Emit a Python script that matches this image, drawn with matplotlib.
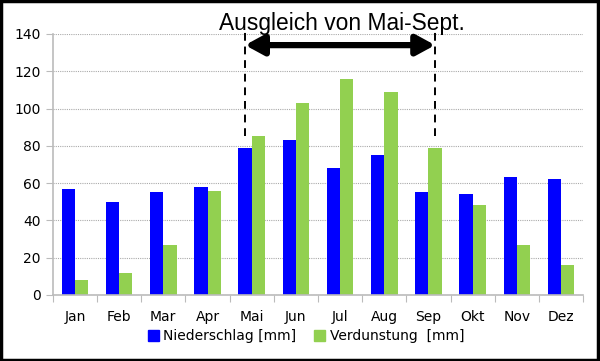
import matplotlib
matplotlib.use('Agg')
import matplotlib.pyplot as plt
from matplotlib.patches import Rectangle, Patch
import numpy as np

months = ['Jan', 'Feb', 'Mar', 'Apr', 'Mai', 'Jun', 'Jul', 'Aug', 'Sep', 'Okt', 'Nov', 'Dez']
niederschlag = [57, 50, 55, 58, 79, 83, 68, 75, 55, 54, 63, 62]
verdunstung = [8, 12, 27, 56, 85, 103, 116, 109, 79, 48, 27, 16]
span_start, span_end = 3.85, 8.15
title = 'Ausgleich von Mai-Sept.'

blue = '#0000FF'
green = '#92D050'

fig = plt.figure(figsize=(6.0, 3.61), dpi=100)
ax = fig.add_axes([0.088, 0.183, 0.884, 0.723])

x = np.arange(len(months))
w = 0.3
ax.bar(x - w / 2, niederschlag, w, color=blue, label='Niederschlag [mm]')
ax.bar(x + w / 2, verdunstung, w, color=green, label='Verdunstung  [mm]')

ax.set_xlim(-0.5, len(months) - 0.5)
ax.set_ylim(0, 140)
ax.set_yticks(range(0, 141, 20))
ax.yaxis.grid(True, color='#AAAAAA', linestyle=(0, (1, 1)), linewidth=0.8)
ax.set_axisbelow(True)

for s in ['top', 'right']:
    ax.spines[s].set_visible(False)
for s in ['left', 'bottom']:
    ax.spines[s].set_color('#BBBBBB')
    ax.spines[s].set_linewidth(1.2)

# ticks between categories, labels centred
ax.set_xticks(np.arange(-0.5, len(months), 1.0))
ax.set_xticklabels([])
ax.set_xticks(x, minor=True)
ax.set_xticklabels(months, minor=True, fontsize=10)
ax.tick_params(axis='x', which='major', length=5, color='#BBBBBB', direction='out')
ax.tick_params(axis='x', which='minor', length=0, pad=11)
ax.tick_params(axis='y', length=5, color='#BBBBBB', labelsize=10)

# dashed markers and arrow
for xv in (span_start, span_end):
    ax.plot([xv, xv], [85, 143], color='black', linestyle=(0, (4, 3)),
            linewidth=1.4, clip_on=False)
ax.annotate('', xy=(span_end, 134), xytext=(span_start, 134),
            arrowprops=dict(arrowstyle='<|-|>,head_length=1.1,head_width=0.6',
                            color='black', lw=4.5, shrinkA=0, shrinkB=0),
            annotation_clip=False)
ax.text((span_start + span_end) / 2 + 0.03, 142, title, ha='center', va='baseline',
        fontsize=16.4, family='Liberation Sans', clip_on=False)

handles = [Patch(color=blue, label='Niederschlag [mm]'),
           Patch(color=green, label='Verdunstung  [mm]')]
fig.legend(handles=handles, loc='center', bbox_to_anchor=(0.51, 0.068), ncol=2,
           frameon=False, fontsize=10, handlelength=0.8, handleheight=0.8,
           handletextpad=0.3, columnspacing=1.3)

fig.patches.append(Rectangle((0.002, 0.003), 0.994, 0.994, transform=fig.transFigure,
                             fill=False, edgecolor='black', linewidth=2.5))

fig.savefig('out.png', dpi=100)
